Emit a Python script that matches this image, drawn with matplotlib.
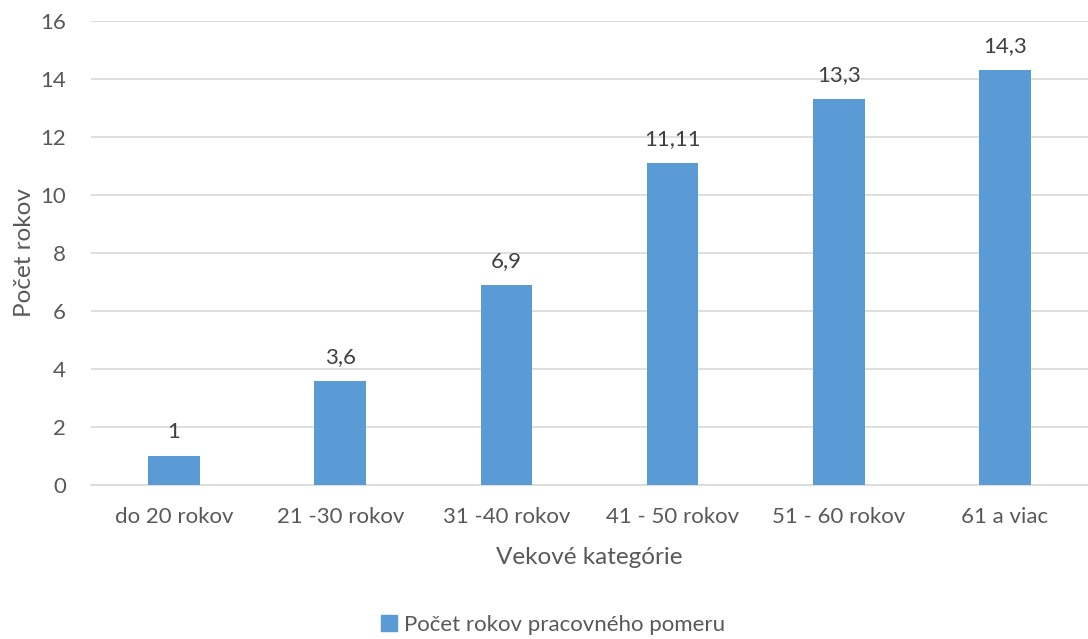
import matplotlib
matplotlib.use("Agg")
from matplotlib import pyplot as plt
from matplotlib.patches import Patch

categories = ["do 20 rokov", "21 -30 rokov", "31 -40 rokov", "41 - 50 rokov", "51 - 60 rokov", "61 a viac"]
values = [1, 3.6, 6.9, 11.11, 13.3, 14.3]
value_labels = ["1", "3,6", "6,9", "11,11", "13,3", "14,3"]

bar_color = "#5B9BD5"
text_color = "#595959"

plt.rcParams["font.family"] = ["Lato", "DejaVu Sans"]

fig = plt.figure(figsize=(10.88, 6.39), dpi=100)
ax = fig.add_axes([91 / 1088, 1 - 485 / 639, 1 - 91 / 1088, (485 - 21) / 639])

x = range(len(categories))
bars = ax.bar(x, values, width=0.31, color=bar_color, zorder=3)

for b, lab in zip(bars, value_labels):
    ax.annotate(lab, (b.get_x() + b.get_width() / 2, b.get_height()),
                xytext=(0, 10), textcoords="offset points",
                ha="center", va="bottom", fontsize=16, color="#404040")

ax.set_xlim(-0.5, len(categories) - 0.5)
ax.set_ylim(0, 16)
ax.set_yticks(range(0, 17, 2))
ax.set_xticks(list(x))
ax.set_xticklabels(categories)
ax.tick_params(axis="both", length=0, labelsize=16, labelcolor=text_color)
ax.tick_params(axis="x", pad=16)
ax.tick_params(axis="y", pad=18)
ax.grid(axis="y", color="#D9D9D9", linewidth=1.2, zorder=0)
for s in ["top", "right", "left"]:
    ax.spines[s].set_visible(False)
ax.spines["bottom"].set_color("#D9D9D9")
ax.spines["bottom"].set_linewidth(1.2)

ax.set_xlabel("Vekové kategórie", fontsize=17.5, color=text_color, labelpad=14)
ax.set_ylabel("Počet rokov", fontsize=17.5, color=text_color, labelpad=4)

fig.legend(handles=[Patch(color=bar_color, label="Počet rokov pracovného pomeru")],
           loc="center", bbox_to_anchor=(553 / 1088, 1 - 625 / 639), frameon=False,
           fontsize=16, labelcolor=text_color, handlelength=0.75, handleheight=0.75,
           handletextpad=0.3)

fig.savefig("out.png", dpi=100)
